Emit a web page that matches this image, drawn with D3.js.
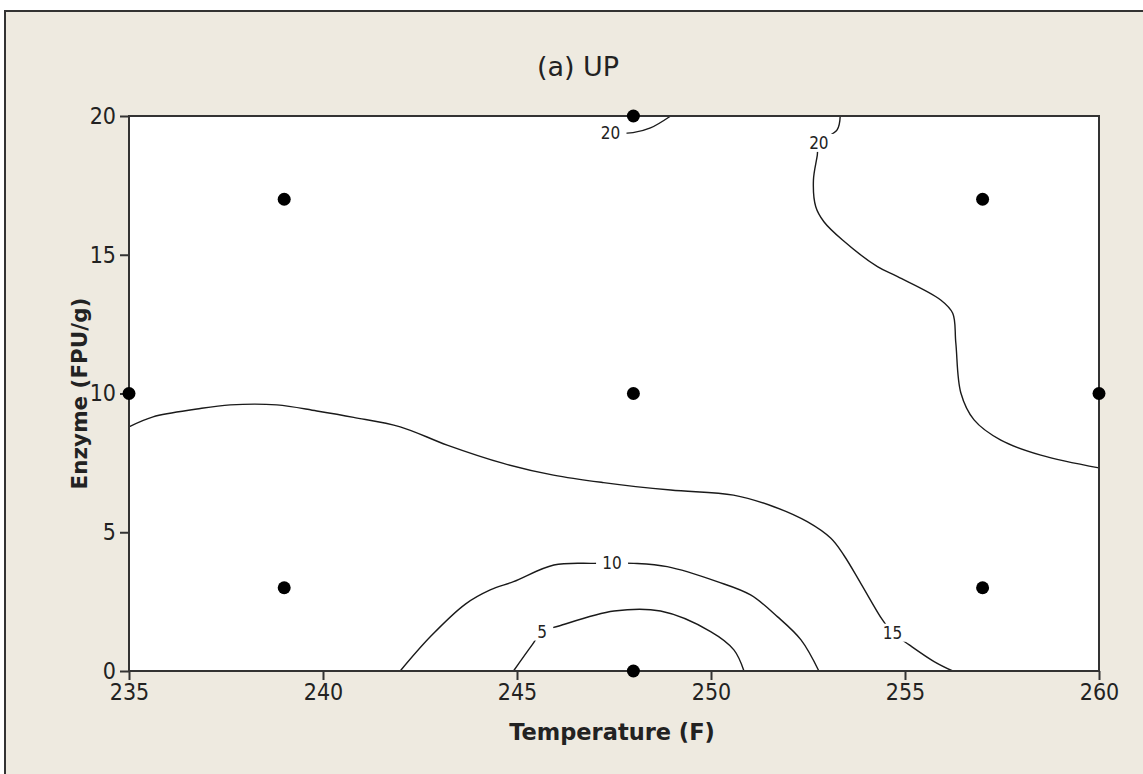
<!DOCTYPE html>
<html>
<head>
<meta charset="utf-8">
<script src="https://cdn.jsdelivr.net/npm/d3@7"></script>
<style>
	body { margin: 0; background: #fff; }
	#root { width: 1143px; height: 774px; }
	text { font-family: "DejaVu Sans Condensed", "DejaVu Sans", sans-serif; fill: #222; }
</style>
</head>
<body>
<div id="root"></div>
<script>

// design points
const temps   = [235, 239, 239, 248, 248, 248, 257, 257, 260];
const enzymes = [10, 3, 17, 0, 10, 20, 3, 17, 10];

const xTicks = [235, 240, 245, 250, 255, 260];
const yTicks = [0, 5, 10, 15, 20];

// contour lines, [temperature, enzyme]
const contour5 = [[244.91, 0], [245.39, 0.94], [245.65, 1.42], [246.08, 1.62], [247.50, 2.16],
	[248.70, 2.16], [249.99, 1.42], [250.59, 0.76], [250.85, 0]];

const contour10 = [[241.99, 0], [242.77, 1.24], [243.67, 2.41], [244.31, 2.92], [244.91, 3.22],
	[245.95, 3.82], [246.98, 3.88], [247.45, 3.89], [248.01, 3.88], [248.87, 3.76],
	[250.16, 3.22], [251.02, 2.74], [251.71, 1.96], [252.32, 1.12], [252.78, 0]];

const contour15 = [[235, 8.80], [235.62, 9.16], [236.75, 9.44], [237.61, 9.59], [238.81, 9.59],
	[239.84, 9.37], [240.79, 9.14], [241.99, 8.80], [243.20, 8.14], [244.65, 7.48],
	[245.94, 7.06], [247.23, 6.79], [248.96, 6.52], [250.58, 6.34], [251.62, 5.92],
	[252.48, 5.38], [253.09, 4.78], [253.42, 4.18], [253.86, 3.16], [254.42, 1.84],
	[254.68, 1.38], [255.11, 0.94], [255.75, 0.34], [256.23, 0]];

const contour20top = [[247.41, 19.38], [247.99, 19.40], [248.44, 19.57], [248.96, 20]];

const contour20right = [[253.33, 20], [253.25, 19.50], [252.78, 19.03], [252.74, 18.59],
	[252.64, 17.69], [252.70, 16.73], [252.91, 16.19], [253.39, 15.53], [254.29, 14.57],
	[254.81, 14.21], [255.92, 13.37], [256.23, 12.89], [256.31, 11.82], [256.44, 10.02],
	[256.78, 9.05], [257.47, 8.32], [258.50, 7.78], [260, 7.32]];

const contourLabels = [
	{ text: "5", at: [245.65, 1.42] },
	{ text: "10", at: [247.45, 3.89] },
	{ text: "15", at: [254.68, 1.38] },
	{ text: "20", at: [247.41, 19.38] },
	{ text: "20", at: [252.78, 19.03] }
];

const makeChart = () => {

	const svg = d3.select("#root")
		.append("svg")
			.attr("width", 1143)
			.attr("height", 774);

	// grey panel
	svg.append("rect")
		.attr("x", 5)
		.attr("y", 11)
		.attr("width", 1160)
		.attr("height", 790)
		.attr("fill", "#EEEAE0")
		.attr("stroke", "#333")
		.attr("stroke-width", 2);

	const plot = { left: 129, right: 1099, top: 116, bottom: 671 };

	const x = d3.scaleLinear().domain([235, 260]).range([plot.left, plot.right]);
	const y = d3.scaleLinear().domain([0, 20]).range([plot.bottom, plot.top]);

	svg.append("rect")
		.attr("x", plot.left)
		.attr("y", plot.top)
		.attr("width", plot.right - plot.left)
		.attr("height", plot.bottom - plot.top)
		.attr("fill", "#fff");

	//
	const line = d3.line()
		.x(d => x(d[0]))
		.y(d => y(d[1]))
		.curve(d3.curveCatmullRom);

	const lines = [contour5, contour10, contour15, contour20top, contour20right];

	svg.selectAll(".contour")
		.data(lines)
		.enter()
		.append("path")
			.attr("class", "contour")
			.attr("d", line)
			.attr("fill", "none")
			.attr("stroke", "#1a1a1a")
			.attr("stroke-width", 1.4);

	// labels sit in a gap of the line
	const labels = svg.selectAll(".clabel")
		.data(contourLabels)
		.enter()
		.append("g")
			.attr("class", "clabel")
			.attr("transform", d => `translate(${ x(d.at[0]) }, ${ y(d.at[1]) })`);

	labels.append("rect")
		.attr("x", d => -d.text.length * 5 - 6)
		.attr("y", -9)
		.attr("width", d => d.text.length * 10 + 12)
		.attr("height", 18)
		.attr("fill", "#fff");

	labels.append("text")
		.attr("text-anchor", "middle")
		.attr("dy", "0.36em")
		.style("font-size", "17px")
		.text(d => d.text);

	//
	svg.append("g")
		.attr("transform", `translate(0, ${ plot.bottom })`)
		.call(d3.axisBottom(x).tickValues(xTicks).tickSize(9).tickPadding(4))
		.call(styleAxis);

	svg.append("g")
		.attr("transform", `translate(${ plot.left }, 0)`)
		.call(d3.axisLeft(y).tickValues(yTicks).tickSize(9).tickPadding(4))
		.call(styleAxis);

	// frame of the plot
	svg.append("rect")
		.attr("x", plot.left)
		.attr("y", plot.top)
		.attr("width", plot.right - plot.left)
		.attr("height", plot.bottom - plot.top)
		.attr("fill", "none")
		.attr("stroke", "#333")
		.attr("stroke-width", 2);

	//
	svg.selectAll(".pt")
		.data(temps.map((t, i) => [t, enzymes[i]]))
		.enter()
		.append("circle")
			.attr("class", "pt")
			.attr("cx", d => x(d[0]))
			.attr("cy", d => y(d[1]))
			.attr("r", 6.5)
			.attr("fill", "#000");

	//
	svg.append("text")
		.attr("x", 578)
		.attr("y", 76)
		.attr("text-anchor", "middle")
		.style("font-family", "'DejaVu Sans', sans-serif")
		.style("font-size", "27px")
		.text("(a) UP");

	svg.append("text")
		.attr("x", 612)
		.attr("y", 740)
		.attr("text-anchor", "middle")
		.style("font-family", "'DejaVu Sans', sans-serif")
		.style("font-size", "22.5px")
		.style("font-weight", "bold")
		.text("Temperature (F)");

	svg.append("text")
		.attr("transform", `translate(87, ${ (plot.top + plot.bottom) / 2 }) rotate(-90)`)
		.attr("text-anchor", "middle")
		.style("font-family", "'DejaVu Sans', sans-serif")
		.style("font-size", "21.5px")
		.style("font-weight", "bold")
		.text("Enzyme (FPU/g)");
};

const styleAxis = (g) => {
	g.select(".domain").remove();
	g.selectAll(".tick line").attr("stroke", "#333").attr("stroke-width", 2);
	g.selectAll(".tick text")
		.style("font-size", "23px")
		.style("font-family", "'DejaVu Sans Condensed', 'DejaVu Sans', sans-serif")
		.attr("fill", "#222");
};

makeChart();
</script>
</body>
</html>
